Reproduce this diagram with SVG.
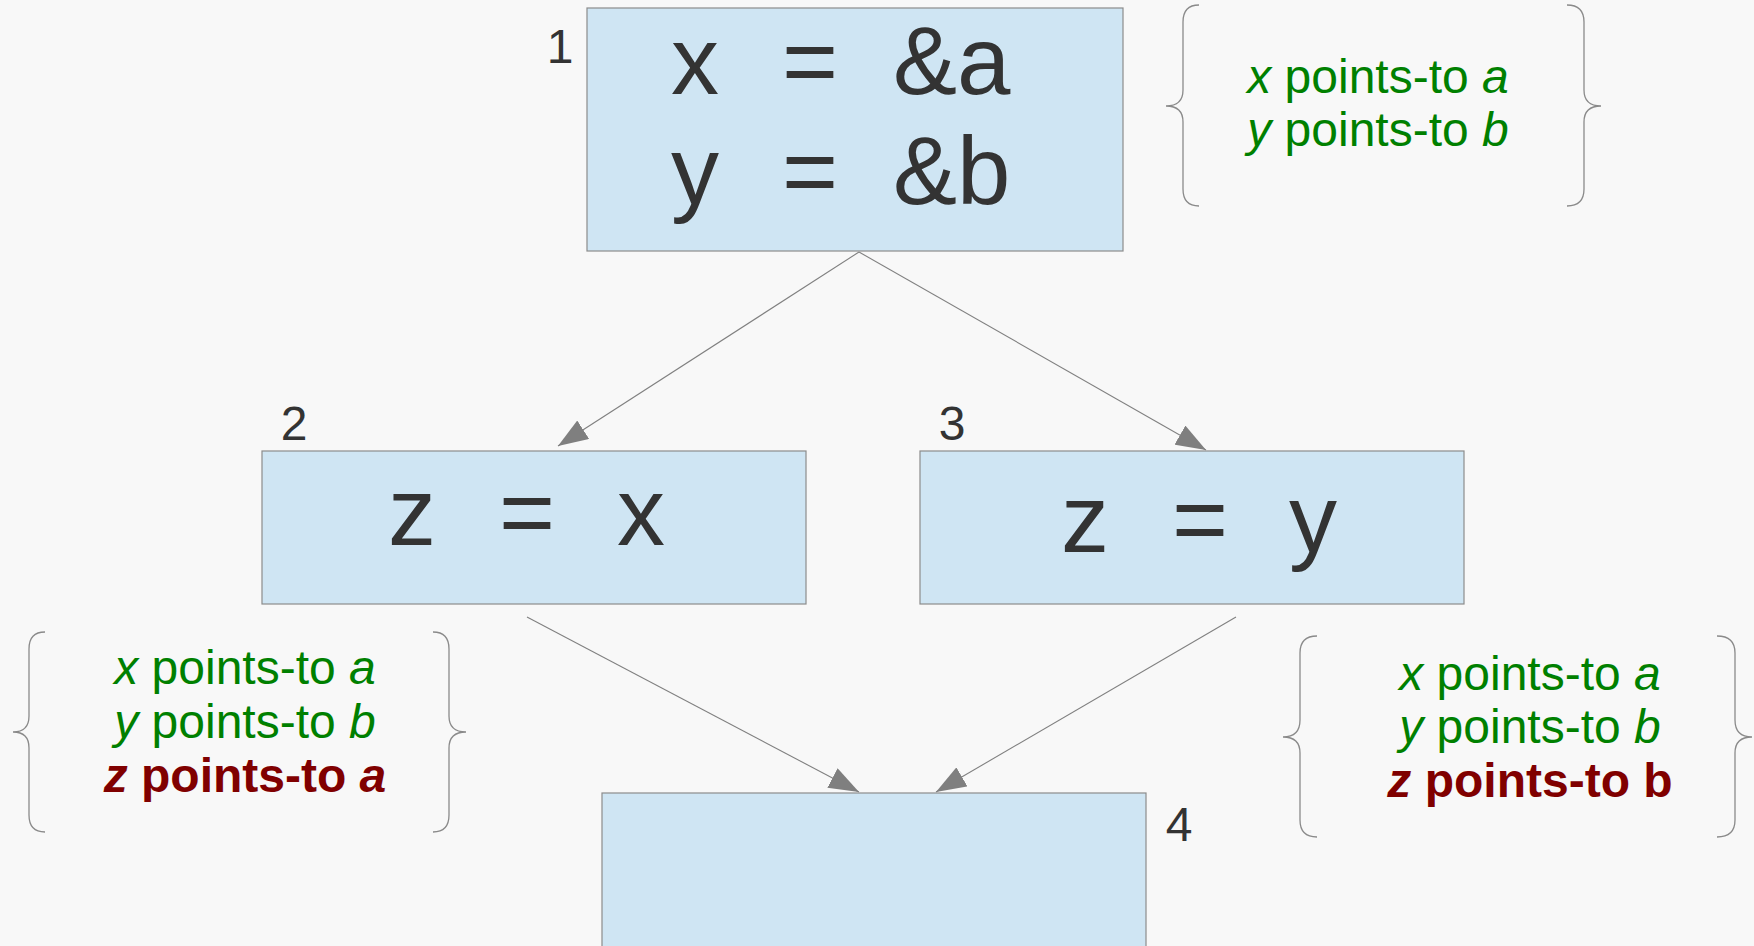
<svg xmlns="http://www.w3.org/2000/svg" width="1754" height="946" viewBox="0 0 1754 946">
<defs>
<style>
.bg{fill:#f8f8f8}
.box{fill:#cfe5f3;stroke:#8c8c8c;stroke-width:1.2}
.code{font-family:"Liberation Sans",Arial,sans-serif;font-size:96px;fill:#333333}
.num{font-family:"Liberation Sans",Arial,sans-serif;font-size:48px;fill:#333333;text-anchor:middle}
.pt{font-family:"Liberation Sans",Arial,sans-serif;font-size:48px;fill:#008000;text-anchor:middle}
.ptb{font-weight:bold;fill:#800000}
.it{font-style:italic}
.brace{fill:none;stroke:#8a8a8a;stroke-width:1.3}
.edge{fill:none;stroke:#808080;stroke-width:1.1}
</style>
<marker id="arr" viewBox="0 0 30 22" refX="30" refY="11" markerWidth="30" markerHeight="22" orient="auto" markerUnits="userSpaceOnUse">
<path d="M0,0 L30,11 L0,22 Z" fill="#7f7f7f"/>
</marker>
</defs>
<rect class="bg" x="0" y="0" width="1754" height="946"/>

<g id="connectors">
<line class="edge" x1="859" y1="252" x2="558" y2="446" marker-end="url(#arr)"/>
<line class="edge" x1="859" y1="252" x2="1206" y2="450" marker-end="url(#arr)"/>
<line class="edge" x1="527" y1="617" x2="859" y2="792" marker-end="url(#arr)"/>
<line class="edge" x1="1236" y1="617" x2="936" y2="792" marker-end="url(#arr)"/>
</g>

<g id="node1">
<rect class="box" x="587" y="8" width="536" height="243"/>
<text class="num" x="560" y="63">1</text>
<text class="code" y="94"><tspan x="671">x</tspan> <tspan x="782">=</tspan> <tspan x="893">&amp;a</tspan></text>
<text class="code" y="204"><tspan x="671">y</tspan> <tspan x="782">=</tspan> <tspan x="893">&amp;b</tspan></text>
</g>

<g id="node2">
<rect class="box" x="262" y="451" width="544" height="153"/>
<text class="num" x="294" y="440">2</text>
<text class="code" y="545"><tspan x="388">z</tspan> <tspan x="499">=</tspan> <tspan x="617">x</tspan></text>
</g>

<g id="node3">
<rect class="box" x="920" y="451" width="544" height="153"/>
<text class="num" x="952" y="440">3</text>
<text class="code" y="552"><tspan x="1061">z</tspan> <tspan x="1172">=</tspan> <tspan x="1289">y</tspan></text>
</g>

<g id="node4">
<rect class="box" x="602" y="793" width="544" height="200"/>
<text class="num" x="1179" y="841">4</text>
</g>

<g id="facts1">
<path class="brace" d="M1199,5 Q1183,5 1183,22 L1183,90 Q1183,106 1166,106 Q1183,106 1183,122 L1183,189 Q1183,206 1199,206"/>
<path class="brace" d="M1567,5 Q1584,5 1584,22 L1584,90 Q1584,106 1601,106 Q1584,106 1584,122 L1584,189 Q1584,206 1567,206"/>
<text class="pt" x="1378" y="93"><tspan class="it">x</tspan> points-to <tspan class="it">a</tspan></text>
<text class="pt" x="1378" y="146"><tspan class="it">y</tspan> points-to <tspan class="it">b</tspan></text>
</g>

<g id="facts2">
<path class="brace" d="M45,632 Q29,632 29,649 L29,716 Q29,732 13,732 Q29,732 29,748 L29,815 Q29,832 45,832"/>
<path class="brace" d="M433,632 Q449,632 449,649 L449,716 Q449,732 466,732 Q449,732 449,748 L449,815 Q449,832 433,832"/>
<text class="pt" x="245" y="684"><tspan class="it">x</tspan> points-to <tspan class="it">a</tspan></text>
<text class="pt" x="245" y="738"><tspan class="it">y</tspan> points-to <tspan class="it">b</tspan></text>
<text class="pt ptb" x="245" y="792"><tspan class="it">z</tspan> points-to <tspan class="it">a</tspan></text>
</g>

<g id="facts3">
<path class="brace" d="M1317,636 Q1300,636 1300,653 L1300,720 Q1300,737 1283,737 Q1300,737 1300,753 L1300,820 Q1300,837 1317,837"/>
<path class="brace" d="M1717,636 Q1735,636 1735,653 L1735,720 Q1735,737 1752,737 Q1735,737 1735,753 L1735,820 Q1735,837 1717,837"/>
<text class="pt" x="1530" y="690"><tspan class="it">x</tspan> points-to <tspan class="it">a</tspan></text>
<text class="pt" x="1530" y="743"><tspan class="it">y</tspan> points-to <tspan class="it">b</tspan></text>
<text class="pt ptb" x="1530" y="797"><tspan class="it">z</tspan> points-to b</text>
</g>
</svg>
